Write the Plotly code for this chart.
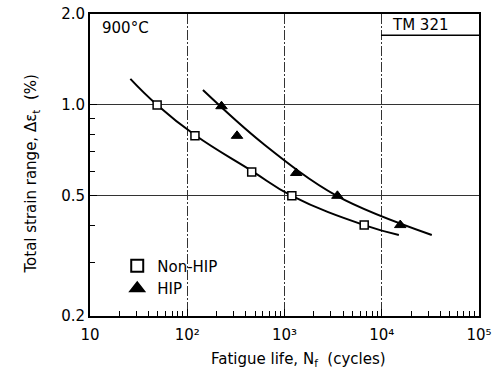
import plotly.graph_objects as go

# data
nonhip_N = [49, 120, 460, 1190, 6600]
nonhip_e = [1.0, 0.79, 0.60, 0.50, 0.40]
hip_N = [225, 325, 1320, 3500, 15500]
hip_e = [0.99, 0.79, 0.595, 0.50, 0.40]

# fitted curves as drawn
nonhip_curve_N = [26, 49, 120, 460, 1190, 6600, 15000]
nonhip_curve_e = [1.22, 1.0, 0.795, 0.605, 0.50, 0.40, 0.371]
hip_curve_N = [145, 600, 3450, 32700]
hip_curve_e = [1.12, 0.745, 0.50, 0.371]

x_tickvals = [10, 100, 1000, 10000, 100000]
x_ticktext = ["10", "10²", "10³", "10⁴", "10⁵"]
y_tickvals = [0.2, 0.5, 1.0, 2.0]
y_ticktext = ["0.2", "0.5", "1.0", "2.0"]

FONT = "DejaVu Sans"
fig = go.Figure()
fig.add_trace(go.Scatter(x=nonhip_curve_N, y=nonhip_curve_e, mode="lines",
                         line=dict(color="black", width=2, shape="spline", smoothing=1.3),
                         showlegend=False))
fig.add_trace(go.Scatter(x=hip_curve_N, y=hip_curve_e, mode="lines",
                         line=dict(color="black", width=2, shape="spline", smoothing=1),
                         showlegend=False))
fig.add_trace(go.Scatter(x=nonhip_N, y=nonhip_e, mode="markers", name="Non-HIP",
                         marker=dict(symbol="square", size=8, color="white",
                                     line=dict(color="black", width=1.5))))
fig.add_trace(go.Scatter(x=hip_N, y=hip_e, mode="markers", name="HIP",
                         marker=dict(symbol="triangle-up", size=10, color="black",
                                     line=dict(color="black", width=1))))

x_minor = [m * 10 ** k for k in range(1, 5) for m in range(2, 10)]
y_minor = [0.3, 0.4, 0.6, 0.7, 0.8, 0.9]

fig.update_xaxes(type="log", range=[1, 5], tickvals=x_tickvals, ticktext=x_ticktext,
                 showline=True, linecolor="black", linewidth=2, mirror=True, automargin=False,
                 ticks="inside", ticklen=7, tickcolor="black", ticklabelstandoff=4,
                 minor=dict(tickvals=x_minor, ticks="inside", ticklen=5, tickcolor="black"),
                 showgrid=True, gridcolor="#333", gridwidth=1, griddash="10px,2px,2px,2px",
                 tickfont=dict(family=FONT, size=15, color="black"), zeroline=False)
fig.update_yaxes(type="log", range=[-0.69897, 0.30103], tickvals=y_tickvals, ticktext=y_ticktext,
                 showline=True, linecolor="black", linewidth=2, mirror=True, automargin=False,
                 ticks="inside", ticklen=7, tickcolor="black",
                 minor=dict(tickvals=y_minor, ticks="inside", ticklen=5, tickcolor="black"),
                 showgrid=True, gridcolor="#333", gridwidth=1,
                 tickfont=dict(family=FONT, size=15, color="black"), zeroline=False)

fig.add_shape(type="line", xref="paper", yref="paper", x0=0.748, x1=1, y0=0.93, y1=0.93,
              line=dict(color="black", width=1.5))
fig.add_annotation(text="900°C", xref="paper", yref="paper", x=0.025, y=0.955,
                   xanchor="left", yanchor="middle", showarrow=False,
                   font=dict(family=FONT, size=15, color="black"))
fig.add_annotation(text="TM 321", xref="paper", yref="paper", x=0.77, y=0.965,
                   xanchor="left", yanchor="middle", showarrow=False,
                   font=dict(family=FONT, size=15, color="black"))
fig.add_annotation(text="Total strain range, Δε<sub>t</sub>  (%)", xref="paper", yref="paper",
                   x=-0.18, y=0.47, textangle=-90, showarrow=False,
                   font=dict(family=FONT, size=15, color="black"))
fig.add_annotation(text="Fatigue life, N<sub>f</sub>  (cycles)", xref="paper", yref="paper",
                   x=0.535, y=-0.145, yanchor="middle", showarrow=False,
                   font=dict(family=FONT, size=15, color="black"))

fig.update_layout(width=496, height=371, margin=dict(l=90, r=17, t=14, b=55),
                  paper_bgcolor="white", plot_bgcolor="white",
                  legend=dict(x=0.07, y=0.22, xanchor="left", yanchor="top",
                              bgcolor="rgba(0,0,0,0)", itemsizing="constant",
                              font=dict(family=FONT, size=15, color="black"),
                              tracegroupgap=0))
fig.write_html("out.html", config={"displayModeBar": False, "responsive": False},
               post_script="document.body.style.margin='0px';"
                           "document.body.style.overflow='hidden';")
